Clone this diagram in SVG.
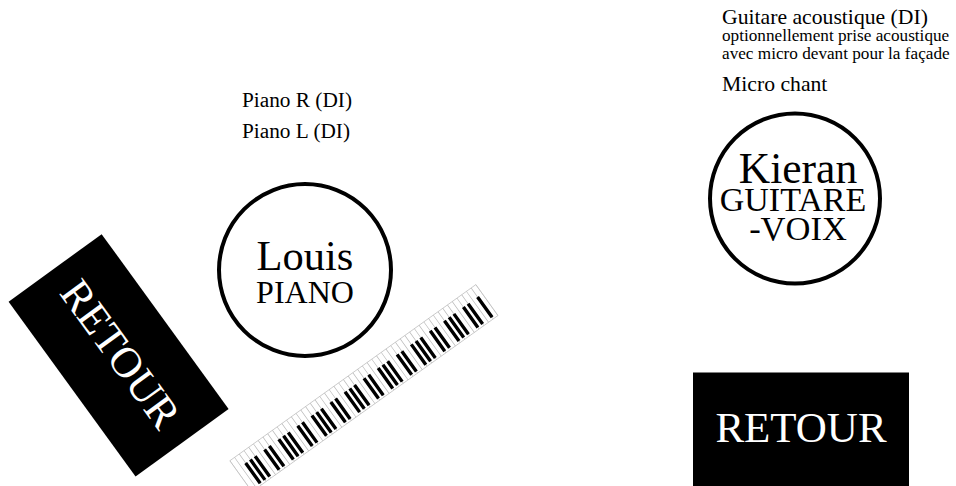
<svg xmlns="http://www.w3.org/2000/svg" width="956" height="486" viewBox="0 0 956 486">
<style>
text{font-family:"Liberation Serif","Times New Roman",serif;fill:#000}
.c{fill:#fff;stroke:#000;stroke-width:4}
.m{text-anchor:middle}
.r{fill:#fff;font-size:43px;text-anchor:middle}
</style>
<rect width="956" height="486" fill="#fff"/>
<g id="keyboard" transform="translate(498 315.5) rotate(144.4)">
<rect width="302.6" height="38" fill="#fff" stroke="#bbb" stroke-width=".7"/>
<path d="M0 19H302.6" fill="none" stroke="#bbb" stroke-width="38" stroke-dasharray=".7 5.12" stroke-dashoffset="-5.47"/>
<path stroke="#000" stroke-width="3.4" fill="none" d="M5.82 2V27M17.46 2V27M23.28 2V27M34.92 2V27M40.74 2V27M46.56 2V27M58.2 2V27M64.02 2V27M75.66 2V27M81.48 2V27M87.3 2V27M98.94 2V27M104.76 2V27M116.4 2V27M122.22 2V27M128.04 2V27M139.68 2V27M145.5 2V27M157.14 2V27M162.96 2V27M168.78 2V27M180.42 2V27M186.24 2V27M197.88 2V27M203.7 2V27M209.52 2V27M221.16 2V27M226.98 2V27M238.62 2V27M244.44 2V27M250.26 2V27M261.9 2V27M267.72 2V27M279.36 2V27M285.18 2V27M291 2V27"/>
</g>
<g id="louis">
<circle class="c" cx="305" cy="270" r="86"/>
<text class="m" x="305" y="270" font-size="42.5">Louis</text>
<text class="m" x="305" y="303" font-size="32">PIANO</text>
</g>
<g id="kieran">
<circle class="c" cx="795" cy="198.5" r="85"/>
<text class="m" x="798" y="183" font-size="43.5">Kieran</text>
<text class="m" x="793" y="211" font-size="34">GUITARE</text>
<text class="m" x="798" y="240" font-size="34.5">-VOIX</text>
</g>
<g id="retour-left">
<rect x="-108" y="-57.5" width="216" height="115" transform="translate(118.6 355.3) rotate(54)"/>
<text class="r" transform="translate(118.6 355.3) rotate(54)" y="12">RETOUR</text>
</g>
<g id="retour-right">
<rect x="693" y="372.5" width="216" height="116"/>
<text class="r" x="801" y="442">RETOUR</text>
</g>
<g id="labels">
<text x="242" y="107" font-size="21.3">Piano R (DI)</text>
<text x="242" y="138" font-size="21.3">Piano L (DI)</text>
<text x="722" y="24" font-size="21.7">Guitare acoustique (DI)</text>
<text x="722" y="41" font-size="17.2">optionnellement prise acoustique</text>
<text x="722" y="59" font-size="17.2">avec micro devant pour la façade</text>
<text x="722" y="91" font-size="21.7">Micro chant</text>
</g>
</svg>
